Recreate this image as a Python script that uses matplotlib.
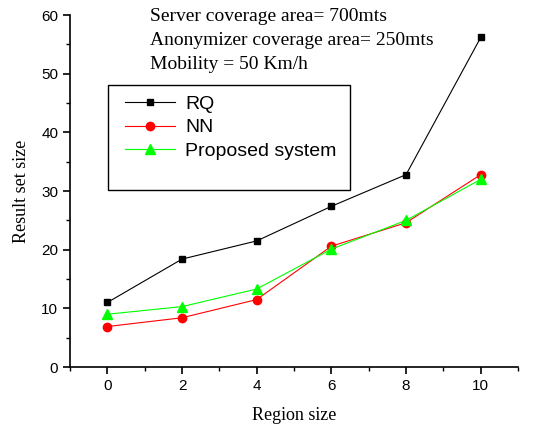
import numpy as np
import matplotlib.pyplot as plt
from matplotlib.patches import Rectangle
from matplotlib.ticker import MultipleLocator

plt.rcParams['font.family'] = 'Liberation Sans'

region = [0, 2, 4, 6, 8, 10]
rq = [11.0, 18.4, 21.5, 27.4, 32.8, 56.2]
nn = [6.9, 8.4, 11.5, 20.6, 24.6, 32.8]
proposed = [9.0, 10.3, 13.3, 20.1, 25.0, 32.0]

notes = ["Server coverage area= 700mts",
         "Anonymizer coverage area= 250mts",
         "Mobility = 50 Km/h"]

fig = plt.figure(figsize=(5.36, 4.24), dpi=100)
ax = fig.add_axes([0.1306, 0.1344, 0.836, 0.830])

ax.plot(region, rq, color='black', lw=0.8, marker='s', ms=5, label='RQ')
ax.plot(region, nn, color='red', lw=0.8, marker='o', ms=6, label='NN')
ax.plot(region, proposed, color='#00ff00', lw=0.8, marker='^', ms=7, label='Proposed system')

ax.set_xlim(-1, 11)
ax.set_ylim(0, 60)
ax.xaxis.set_major_locator(MultipleLocator(2))
ax.xaxis.set_minor_locator(MultipleLocator(1))
ax.yaxis.set_major_locator(MultipleLocator(10))
ax.yaxis.set_minor_locator(MultipleLocator(5))
ax.spines['top'].set_visible(False)
ax.spines['right'].set_visible(False)
ax.spines['left'].set_linewidth(1.2)
ax.spines['bottom'].set_linewidth(1.2)
ax.tick_params(which='major', direction='out', length=5, width=1.2, labelsize=11)
ax.tick_params(which='minor', direction='out', length=3, width=1.0)

ax.set_xlabel('Region size', family='Liberation Serif', fontsize=13, labelpad=10)
ax.set_ylabel('Result set size', family='Liberation Serif', fontsize=13, labelpad=8)

for i, t in enumerate(notes):
    ax.text(0.178, 0.997 - i * 0.068, t, transform=ax.transAxes, family='Liberation Serif',
            fontsize=14, va='center', ha='left')

# legend box like Origin
ax.add_patch(Rectangle((0.085, 0.503), 0.54, 0.297, transform=ax.transAxes,
                       fill=False, edgecolor='black', lw=1.0, zorder=5))
leg = ax.legend(loc='upper left', bbox_to_anchor=(0.122, 0.773), frameon=False,
                prop={'size': 14}, handlelength=2.6, handletextpad=0.5,
                labelspacing=0.32, borderaxespad=0, borderpad=0)

fig.savefig('out.png', dpi=100)
